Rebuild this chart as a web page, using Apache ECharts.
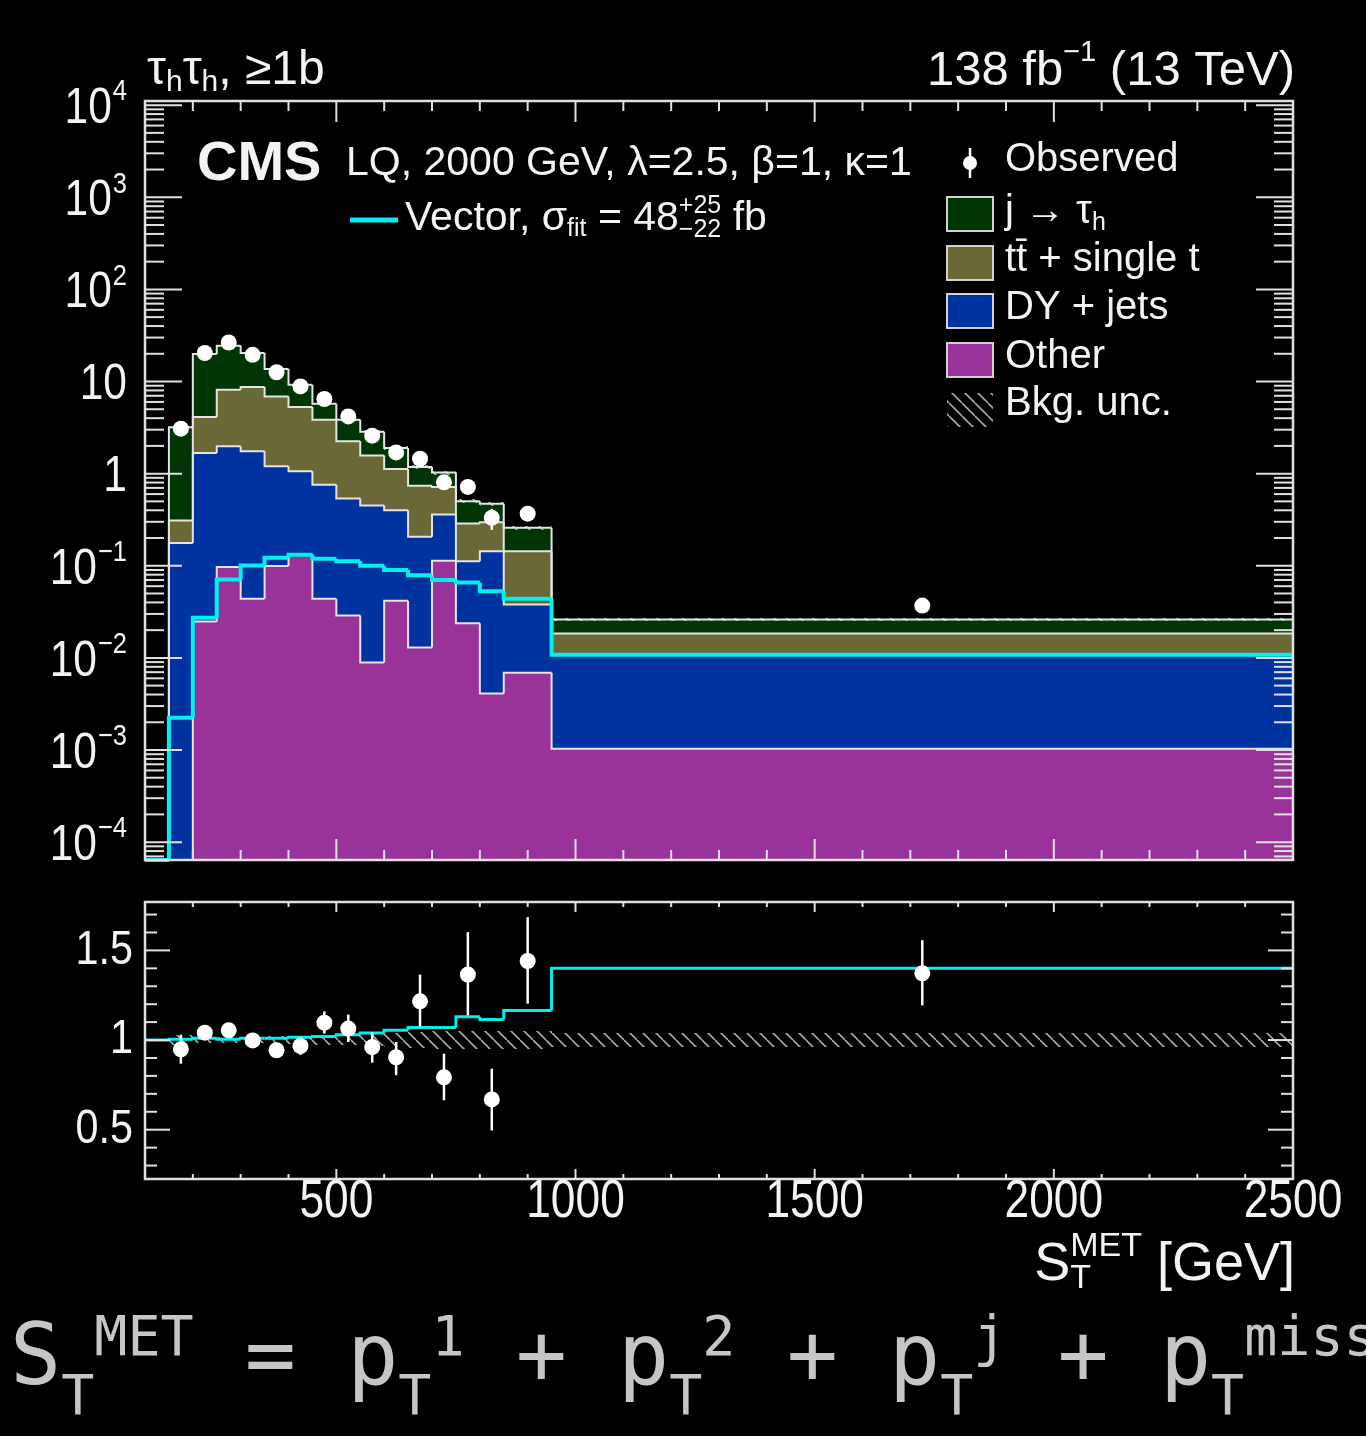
<!DOCTYPE html>
<html>
<head>
<meta charset="utf-8">
<title>S_T^MET distribution, tau_h tau_h >= 1b</title>
<script src="https://cdn.jsdelivr.net/npm/echarts@6.0.0/dist/echarts.min.js"></script>
<style>
  html, body { margin: 0; padding: 0; background: #000; }
  #chart { width: 1366px; height: 1436px; }
</style>
</head>
<body>
<div id="chart"></div>
<script>
// ---------------- data ----------------
// Histogram binning in S_T^MET [GeV]
const binEdges = [100, 150, 200, 250, 300, 350, 400, 450, 500, 550, 600, 650, 700, 750, 800, 850, 950, 2500];

// Background yields per bin, stacked bottom to top
const otherBkg = [0, 0, 0.0248, 0.0968, 0.0438, 0.0992, 0.132, 0.0438, 0.0288, 0.0089, 0.0416, 0.0130, 0.113, 0.0238, 0.0041, 0.0069, 0.00103];
const dyJets   = [0, 0.177, 1.655, 1.883, 1.706, 1.101, 0.928, 0.716, 0.507, 0.441, 0.358, 0.193, 0.246, 0.0882, 0.140, 0.0311, 0.00987];
const topQuark = [0, 0.132, 2.44, 6.17, 6.97, 5.69, 4.23, 3.09, 1.704, 1.12, 0.72, 0.535, 0.358, 0.175, 0.152, 0.106, 0.0075];
const jetFakes = [0, 2.88, 15.76, 16.3, 11.66, 6.77, 3.94, 1.89, 1.61, 1.28, 0.78, 0.439, 0.313, 0.213, 0.174, 0.114, 0.0077];
// Relative background uncertainty per bin
const bkgRelUnc = [0, 0.03, 0.015, 0.015, 0.015, 0.02, 0.02, 0.025, 0.03, 0.035, 0.04, 0.045, 0.05, 0.05, 0.05, 0.05, 0.04];

// Vector LQ signal (m = 2000 GeV)
const signalVector = [0, 0.00224, 0.0272, 0.0708, 0.1005, 0.122, 0.132, 0.119, 0.112, 0.100, 0.090, 0.079, 0.070, 0.066, 0.0529, 0.0438, 0.0108];

// Observed data
const observed = [null, 3.08, 20.4, 26.5, 19.5, 12.6, 8.85, 6.46, 4.18, 2.58, 1.70, 1.45, 0.805, 0.717, 0.331, 0.368, 0.037];

// Ratio panel: data / background and (signal + background) / background
const ratioObs     = [null, 0.948, 1.041, 1.054, 0.998, 0.943, 0.967, 1.097, 1.064, 0.961, 0.904, 1.216, 0.792, 1.365, 0.669, 1.441, 1.372];
const ratioErrUp   = [null, 0.082, 0.035, 0.035, 0.035, 0.040, 0.050, 0.063, 0.078, 0.084, 0.085, 0.149, 0.132, 0.237, 0.171, 0.245, 0.185];
const ratioErrDown = [null, 0.080, 0.035, 0.035, 0.035, 0.040, 0.050, 0.061, 0.075, 0.087, 0.100, 0.144, 0.128, 0.227, 0.173, 0.238, 0.179];
const ratioSignal  = [1.0, 1.005, 1.01, 1.005, 1.01, 1.01, 1.015, 1.02, 1.03, 1.04, 1.055, 1.07, 1.07, 1.13, 1.115, 1.165, 1.40];

// Tick labels
const xTickLabels = [500, 1000, 1500, 2000, 2500];
const logDecades = [4, 3, 2, 1, 0, -1, -2, -3, -4];
const ratioTickLabels = [0.5, 1, 1.5];

// ---------------- style & helpers ----------------
const SANS = "'Liberation Sans', Arial, 'DejaVu Sans', sans-serif";
const MONO = "'DejaVu Sans Mono', 'Liberation Mono', monospace";
const INK = '#f3f3f3';
const FRAME = '#e0e0e0';
const OUTLINE = '#e4e4e4';
const CYAN = '#00f0f0';
const COLORS = { other: '#993399', dy: '#0033a0', top: '#6a6836', fake: '#023506' };

const X_MIN = 100, X_MAX = 2500;
const Y_MIN = Math.pow(10, -4.194), Y_MAX = Math.pow(10, 4.045);
const R_MIN = 0.225, R_MAX = 1.77;

const nBins = binEdges.length - 1;
const lo = i => binEdges[i];
const hi = i => binEdges[i + 1];
const ctr = i => (binEdges[i] + binEdges[i + 1]) / 2;
const clampY = v => Math.min(Math.max(v || 0, Y_MIN), Y_MAX);

const measureCtx = document.createElement('canvas').getContext('2d');
function textWidth(str, font) { measureCtx.font = font; return measureCtx.measureText(str).width; }

// Lays out a run of text pieces (with sub/superscripts) left to right.
function run(pieces, o) {
  const sx = o.scaleX || 1;
  let cur = 0, lastStart = 0;
  const placed = [];
  pieces.forEach(p => {
    const font = (p.weight || o.weight || 'normal') + ' ' + p.fs + 'px ' + (p.family || o.family || SANS);
    const start = p.back ? lastStart : cur + (p.gap || 0);
    const w = textWidth(p.t, font) * sx;
    placed.push({ p, font, start });
    lastStart = start;
    cur = Math.max(cur, start + w);
  });
  const x0 = o.align === 'right' ? o.x - cur : o.align === 'center' ? o.x - cur / 2 : o.x;
  return placed.map(({ p, font, start }) => {
    const el = {
      type: 'text', x: x0 + start, y: o.y + (p.dy || 0), scaleX: sx, silent: true,
      style: { text: p.t, font, fill: p.fill || o.fill || INK,
               align: 'left', verticalAlign: 'middle', textAlign: 'left', textVerticalAlign: 'middle' }
    };
    if (o.z != null) el.z = o.z;
    return el;
  });
}

function makeHatch(color, step, lw) {
  const c = document.createElement('canvas');
  c.width = step; c.height = step;
  const g = c.getContext('2d');
  g.strokeStyle = color; g.lineWidth = lw;
  g.beginPath();
  for (let o = -step; o <= step; o += step) { g.moveTo(o, 0); g.lineTo(o + step, step); }
  g.stroke();
  return c;
}
const hatchFill = { image: makeHatch('#a8a8a8', 13, 1.6), repeat: 'repeat' };

// ---------------- stack ----------------
const layers = [
  { values: otherBkg, color: COLORS.other },
  { values: dyJets, color: COLORS.dy },
  { values: topQuark, color: COLORS.top },
  { values: jetFakes, color: COLORS.fake }
];
let running = new Array(nBins).fill(0);
layers.forEach(L => {
  L.bottom = running;
  L.top = running.map((b, i) => b + L.values[i]);
  running = L.top;
});
const totalBkg = running;

// ---------------- render helpers ----------------
function pixelRect(api, x0, x1, b, t) {
  const p0 = api.coord([x0, t]), p1 = api.coord([x1, b]);
  const l = Math.round(p0[0]), r = Math.round(p1[0]), tp = Math.round(p0[1]), bt = Math.round(p1[1]);
  return { x: l, y: tp, width: r - l, height: bt - tp };
}
function fillRender(color) {
  return function (params, api) {
    const b = api.value(2), t = api.value(3);
    if (!(t > b)) return null;
    return { type: 'rect', shape: pixelRect(api, api.value(0), api.value(1), b, t), style: { fill: color } };
  };
}
function bandRender(params, api) {
  const b = api.value(2), t = api.value(3);
  if (!(t > b)) return null;
  return { type: 'rect', shape: pixelRect(api, api.value(0), api.value(1), b, t), style: { fill: hatchFill } };
}
function stepRender(color, width, floorY) {
  return function (params, api) {
    const x0 = api.value(0), x1 = api.value(1), t = api.value(2), prev = api.value(3), last = api.value(4);
    const pts = [api.coord([x0, prev]), api.coord([x0, t]), api.coord([x1, t])];
    if (last) pts.push(api.coord([x1, floorY]));
    return { type: 'polyline', shape: { points: pts }, style: { stroke: color, lineWidth: width, fill: 'none' } };
  };
}
function errRender(params, api) {
  const a = api.coord([api.value(0), api.value(1)]), b = api.coord([api.value(0), api.value(2)]);
  return { type: 'line', shape: { x1: a[0], y1: a[1], x2: b[0], y2: b[1] }, style: { stroke: '#ffffff', lineWidth: 2.5 } };
}
function tickLine(ch, x1, y1, x2, y2) {
  ch.push({ type: 'line', shape: { x1, y1, x2, y2 }, style: { stroke: FRAME, lineWidth: 2 } });
}

function upperFrame(params, api) {
  const tl = api.coord([X_MIN, Y_MAX]), br = api.coord([X_MAX, Y_MIN]);
  const ch = [];
  for (let v = 200; v < X_MAX; v += 100) {
    const x = api.coord([v, 1])[0];
    const len = v % 500 === 0 ? 21 : 10;
    tickLine(ch, x, br[1], x, br[1] - len);
    tickLine(ch, x, tl[1], x, tl[1] + len);
  }
  for (let k = -5; k <= 4; k++) {
    for (let m = 1; m <= 9; m++) {
      const v = m * Math.pow(10, k);
      if (v < Y_MIN || v > Y_MAX) continue;
      const y = api.coord([X_MIN, v])[1];
      const len = m === 1 ? 37 : 19;
      tickLine(ch, tl[0], y, tl[0] + len, y);
      tickLine(ch, br[0], y, br[0] - len, y);
    }
  }
  ch.push({ type: 'rect', shape: { x: tl[0], y: tl[1], width: br[0] - tl[0], height: br[1] - tl[1] },
            style: { fill: 'none', stroke: FRAME, lineWidth: 2.5 } });
  return { type: 'group', children: ch };
}
function lowerFrame(params, api) {
  const tl = api.coord([X_MIN, R_MAX]), br = api.coord([X_MAX, R_MIN]);
  const ch = [];
  for (let v = 200; v < X_MAX; v += 100) {
    const x = api.coord([v, 1])[0];
    const len = v % 500 === 0 ? 10 : 5;
    tickLine(ch, x, br[1], x, br[1] - len);
    tickLine(ch, x, tl[1], x, tl[1] + len);
  }
  for (let j = 3; j <= 17; j++) {
    const y = api.coord([X_MIN, j / 10])[1];
    const len = j % 5 === 0 ? 25 : 12;
    tickLine(ch, tl[0], y, tl[0] + len, y);
    tickLine(ch, br[0], y, br[0] - len, y);
  }
  ch.push({ type: 'rect', shape: { x: tl[0], y: tl[1], width: br[0] - tl[0], height: br[1] - tl[1] },
            style: { fill: 'none', stroke: FRAME, lineWidth: 2.5 } });
  return { type: 'group', children: ch };
}
function logLabel(params, api) {
  const k = logDecades[params.dataIndex];
  const p = api.coord([X_MIN, Math.pow(10, k)]);
  let pieces;
  if (k === 0) pieces = [{ t: '1', fs: 50 }];
  else if (k === 1) pieces = [{ t: '10', fs: 50 }];
  else pieces = [{ t: '10', fs: 50 }, { t: k < 0 ? '\u2212' + (-k) : String(k), fs: 30, dy: -17, gap: 1 }];
  return { type: 'group', children: run(pieces, { x: p[0] - 18, y: p[1] + 4, align: 'right', scaleX: 0.85 }) };
}
function ratioLabel(params, api) {
  const v = ratioTickLabels[params.dataIndex];
  const p = api.coord([X_MIN, v]);
  return { type: 'group', children: run([{ t: String(v), fs: 48 }], { x: p[0] - 12, y: p[1], align: 'right', scaleX: 0.86 }) };
}
function xLabel(params, api) {
  const v = xTickLabels[params.dataIndex];
  const p = api.coord([v, R_MIN]);
  return { type: 'group', children: run([{ t: String(v), fs: 54 }], { x: p[0], y: p[1] + 23, align: 'center', scaleX: 0.82 }) };
}

// ---------------- series ----------------
const series = [];
const idx = [...Array(nBins).keys()];

layers.forEach(L => {
  series.push({
    type: 'custom', xAxisIndex: 0, yAxisIndex: 0, z: 1, silent: true, clip: false,
    encode: { x: [0, 1], y: [2, 3] },
    data: idx.map(i => [lo(i), hi(i), clampY(L.bottom[i]), clampY(L.top[i])]),
    renderItem: fillRender(L.color)
  });
});
// background uncertainty band
series.push({
  type: 'custom', xAxisIndex: 0, yAxisIndex: 0, z: 2, silent: true,
  encode: { x: [0, 1], y: [2, 3] },
  data: idx.filter(i => totalBkg[i] > 0 && bkgRelUnc[i] > 0)
           .map(i => [lo(i), hi(i), clampY(totalBkg[i] * (1 - bkgRelUnc[i])), clampY(totalBkg[i] * (1 + bkgRelUnc[i]))]),
  renderItem: bandRender
});
// stack outlines
layers.forEach(L => {
  series.push({
    type: 'custom', xAxisIndex: 0, yAxisIndex: 0, z: 3, silent: true, clip: false,
    encode: { x: [0, 1], y: [2, 3] },
    data: idx.map(i => [lo(i), hi(i), clampY(L.top[i]), i === 0 ? Y_MIN : clampY(L.top[i - 1]), i === nBins - 1 ? 1 : 0]),
    renderItem: stepRender(OUTLINE, 2, Y_MIN)
  });
});
// signal
series.push({
  type: 'custom', xAxisIndex: 0, yAxisIndex: 0, z: 4, silent: true, clip: false,
  encode: { x: [0, 1], y: [2, 3] },
  data: idx.map(i => [lo(i), hi(i), clampY(signalVector[i]), i === 0 ? Y_MIN : clampY(signalVector[i - 1]), 0]),
  renderItem: stepRender(CYAN, 4, Y_MIN)
});
// observed error bars and points
const obsBins = idx.filter(i => observed[i] != null);
series.push({
  type: 'custom', xAxisIndex: 0, yAxisIndex: 0, z: 5, silent: true,
  encode: { x: 0, y: [1, 2] },
  data: obsBins.map(i => [ctr(i), observed[i] * (1 - ratioErrDown[i] / ratioObs[i]), observed[i] * (1 + ratioErrUp[i] / ratioObs[i])]),
  renderItem: errRender
});
series.push({
  type: 'scatter', xAxisIndex: 0, yAxisIndex: 0, z: 6, silent: true,
  symbol: 'circle', symbolSize: 16, itemStyle: { color: '#ffffff', opacity: 1 },
  data: obsBins.map(i => [ctr(i), observed[i]])
});
// upper frame, ticks, labels
series.push({ type: 'custom', xAxisIndex: 0, yAxisIndex: 0, z: 7, silent: true, clip: false,
  encode: { x: 0, y: 1 }, data: [[X_MIN, 1]], renderItem: upperFrame });
series.push({ type: 'custom', xAxisIndex: 0, yAxisIndex: 0, z: 8, silent: true, clip: false,
  encode: { x: 0, y: 1 }, data: logDecades.map(k => [X_MIN, Math.pow(10, k)]), renderItem: logLabel });

// ratio panel
series.push({
  type: 'custom', xAxisIndex: 1, yAxisIndex: 1, z: 2, silent: true,
  encode: { x: [0, 1], y: [2, 3] },
  data: idx.filter(i => bkgRelUnc[i] > 0).map(i => [lo(i), hi(i), 1 - bkgRelUnc[i], 1 + bkgRelUnc[i]]),
  renderItem: bandRender
});
series.push({
  type: 'custom', xAxisIndex: 1, yAxisIndex: 1, z: 4, silent: true, clip: false,
  encode: { x: [0, 1], y: [2, 3] },
  data: idx.map(i => [lo(i), hi(i), ratioSignal[i], i === 0 ? ratioSignal[0] : ratioSignal[i - 1], 0]),
  renderItem: stepRender(CYAN, 3, R_MIN)
});
series.push({
  type: 'custom', xAxisIndex: 1, yAxisIndex: 1, z: 5, silent: true,
  encode: { x: 0, y: [1, 2] },
  data: obsBins.map(i => [ctr(i), ratioObs[i] - ratioErrDown[i], ratioObs[i] + ratioErrUp[i]]),
  renderItem: errRender
});
series.push({
  type: 'scatter', xAxisIndex: 1, yAxisIndex: 1, z: 6, silent: true,
  symbol: 'circle', symbolSize: 16, itemStyle: { color: '#ffffff', opacity: 1 },
  data: obsBins.map(i => [ctr(i), ratioObs[i]])
});
series.push({ type: 'custom', xAxisIndex: 1, yAxisIndex: 1, z: 7, silent: true, clip: false,
  encode: { x: 0, y: 1 }, data: [[X_MIN, 1]], renderItem: lowerFrame });
series.push({ type: 'custom', xAxisIndex: 1, yAxisIndex: 1, z: 8, silent: true, clip: false,
  encode: { x: 0, y: 1 }, data: ratioTickLabels.map(v => [X_MIN, v]), renderItem: ratioLabel });
series.push({ type: 'custom', xAxisIndex: 1, yAxisIndex: 1, z: 8, silent: true, clip: false,
  encode: { x: 0, y: 1 }, data: xTickLabels.map(v => [v, R_MIN]), renderItem: xLabel });

// ---------------- texts, legend ----------------
const overlay = [];
const Z = 20;
overlay.push(...run([
  { t: '\u03c4', fs: 48 }, { t: 'h', fs: 30, dy: 12 }, { t: '\u03c4', fs: 48 }, { t: 'h', fs: 30, dy: 12 },
  { t: ', \u22651b', fs: 48 }], { x: 147, y: 71, z: Z }));
overlay.push(...run([
  { t: '138 fb', fs: 49 }, { t: '\u22121', fs: 29, dy: -18 }, { t: ' (13 TeV)', fs: 49 }],
  { x: 1295, y: 71, align: 'right', z: Z }));
overlay.push(...run([{ t: 'CMS', fs: 56, weight: 'bold' }], { x: 197, y: 165, z: Z }));
overlay.push(...run([{ t: 'LQ, 2000 GeV, \u03bb=2.5, \u03b2=1, \u03ba=1', fs: 41 }], { x: 346, y: 164, z: Z }));
overlay.push({ type: 'line', z: Z, silent: true, shape: { x1: 350, y1: 220, x2: 398, y2: 220 },
  style: { stroke: CYAN, lineWidth: 5 } });
overlay.push(...run([
  { t: 'Vector, \u03c3', fs: 41 }, { t: 'fit', fs: 25, dy: 10 }, { t: ' = 48', fs: 41 },
  { t: '+25', fs: 25, dy: -13 }, { t: '\u221222', fs: 25, dy: 11, back: true }, { t: ' fb', fs: 41 }],
  { x: 405, y: 219, z: Z }));

// legend
overlay.push({ type: 'line', z: Z, silent: true, shape: { x1: 970, y1: 148, x2: 970, y2: 178 },
  style: { stroke: '#ffffff', lineWidth: 2.5 } });
overlay.push({ type: 'circle', z: Z, silent: true, shape: { cx: 970, cy: 163, r: 7 }, style: { fill: '#ffffff' } });
overlay.push(...run([{ t: 'Observed', fs: 40 }], { x: 1005, y: 160, z: Z }));
const legendRows = [
  { color: COLORS.fake, top: 197, y: 212, pieces: [{ t: 'j \u2192 \u03c4', fs: 40 }, { t: 'h', fs: 25, dy: 11 }] },
  { color: COLORS.top, top: 246, y: 260, pieces: [{ t: 'tt\u0304 + single t', fs: 40 }] },
  { color: COLORS.dy, top: 294, y: 308, pieces: [{ t: 'DY + jets', fs: 40 }] },
  { color: COLORS.other, top: 343, y: 357, pieces: [{ t: 'Other', fs: 40 }] },
  { color: null, top: 393, y: 404, pieces: [{ t: 'Bkg. unc.', fs: 40 }] }
];
legendRows.forEach(r => {
  overlay.push({ type: 'rect', z: Z, silent: true, shape: { x: 947, y: r.top, width: 46, height: 34 },
    style: r.color ? { fill: r.color, stroke: '#d2d2d2', lineWidth: 2 } : { fill: hatchFill } });
  overlay.push(...run(r.pieces, { x: 1005, y: r.y, z: Z }));
});

// x-axis title
overlay.push(...run([
  { t: 'S', fs: 54 }, { t: 'T', fs: 34, dy: 14 }, { t: 'MET', fs: 34, dy: -18, back: true }, { t: ' [GeV]', fs: 54 }],
  { x: 1295, y: 1265, align: 'right', z: Z }));

// definition of the variable
overlay.push(...run([
  { t: 'S', fs: 85 }, { t: 'T', fs: 55, dy: 38 }, { t: 'MET', fs: 55, dy: -21 },
  { t: ' = p', fs: 85 }, { t: 'T', fs: 55, dy: 38 }, { t: '1', fs: 55, dy: -21 },
  { t: ' + p', fs: 85 }, { t: 'T', fs: 55, dy: 38 }, { t: '2', fs: 55, dy: -21 },
  { t: ' + p', fs: 85 }, { t: 'T', fs: 55, dy: 38 }, { t: 'j', fs: 55, dy: -21 },
  { t: ' + p', fs: 85 }, { t: 'T', fs: 55, dy: 38 }, { t: 'miss', fs: 55, dy: -21 }],
  { x: 10, y: 1362, family: MONO, fill: '#c6c6c6', z: Z }));

// ---------------- chart ----------------
const chart = echarts.init(document.getElementById('chart'), null, { renderer: 'canvas' });
chart.setOption({
  backgroundColor: '#000000',
  animation: false,
  grid: [
    { left: 145, top: 101, width: 1148, height: 759, show: false },
    { left: 145, top: 902, width: 1148, height: 277, show: false }
  ],
  xAxis: [
    { type: 'value', gridIndex: 0, min: X_MIN, max: X_MAX, show: false },
    { type: 'value', gridIndex: 1, min: X_MIN, max: X_MAX, show: false }
  ],
  yAxis: [
    { type: 'log', logBase: 10, gridIndex: 0, min: Y_MIN, max: Y_MAX, show: false },
    { type: 'value', gridIndex: 1, min: R_MIN, max: R_MAX, show: false }
  ],
  graphic: { elements: overlay },
  series
});
</script>
</body>
</html>
